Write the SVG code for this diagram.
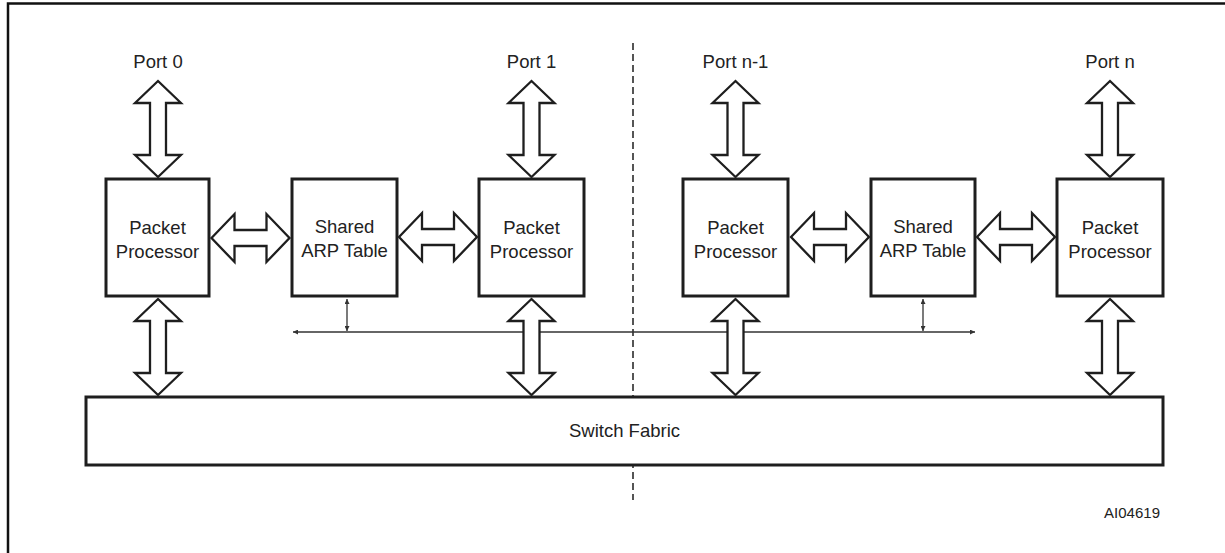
<svg xmlns="http://www.w3.org/2000/svg" width="1225" height="553" viewBox="0 0 1225 553">
  <style>
    .box { fill: #ffffff; stroke: #1e1e1e; stroke-width: 3; }
    .big { fill: #ffffff; stroke: #1e1e1e; stroke-width: 2.3; stroke-linejoin: miter; }
    .lbl { font-family: "Liberation Sans", Arial, sans-serif; font-size: 18.5px; fill: #222222; text-anchor: middle; }
    .tag { font-family: "Liberation Sans", Arial, sans-serif; font-size: 15px; fill: #222222; text-anchor: end; }
    .bus { stroke: #333333; stroke-width: 1.3; fill: none; }
    .frame { stroke: #111111; stroke-width: 2.5; fill: none; }
    .divider { stroke: #1e1e1e; stroke-width: 1.5; stroke-dasharray: 7 4; fill: none; }
  </style>
  <defs>
    <!-- wide outlined double arrows -->
    <path id="vArrow" class="big" d="M0,-48 L23,-26 L8,-26 L8,26 L23,26 L0,48 L-23,26 L-8,26 L-8,-26 L-23,-26 Z"/>
    <path id="hArrow" class="big" d="M-39,0 L-16,-24 L-16,-8 L16,-8 L16,-24 L39,0 L16,24 L16,8 L-16,8 L-16,24 Z"/>
    <marker id="tip" viewBox="0 0 10 10" refX="10" refY="5" markerWidth="6" markerHeight="5" orient="auto-start-reverse" markerUnits="userSpaceOnUse">
      <path d="M0,0 L10,5 L0,10 Z" fill="#333333"/>
    </marker>
  </defs>

  <rect width="1225" height="553" fill="#ffffff"/>

  <!-- outer frame -->
  <path class="frame" d="M8,553 L8,3.5 L1225,3.5"/>

  <!-- divider between the two halves -->
  <line class="divider" x1="633" y1="43" x2="633" y2="500"/>

  <g id="connectors">
    <!-- shared bus -->
    <line class="bus" x1="293" y1="332" x2="975" y2="332" marker-start="url(#tip)" marker-end="url(#tip)"/>
    <line class="bus" x1="347" y1="299" x2="347" y2="331" marker-start="url(#tip)" marker-end="url(#tip)"/>
    <line class="bus" x1="923" y1="299" x2="923" y2="331" marker-start="url(#tip)" marker-end="url(#tip)"/>

    <!-- port links -->
    <use href="#vArrow" x="158" y="129"/>
    <use href="#vArrow" x="531.5" y="129"/>
    <use href="#vArrow" x="735.5" y="129"/>
    <use href="#vArrow" x="1110" y="129"/>

    <!-- fabric links -->
    <use href="#vArrow" x="158" y="347"/>
    <use href="#vArrow" x="531.5" y="347"/>
    <use href="#vArrow" x="735.5" y="347"/>
    <use href="#vArrow" x="1110" y="347"/>

    <!-- processor / ARP table links -->
    <use href="#hArrow" x="250.5" y="238"/>
    <use href="#hArrow" x="438" y="237"/>
    <use href="#hArrow" x="830" y="237"/>
    <use href="#hArrow" x="1016" y="237"/>
  </g>

  <g id="port-labels">
    <text class="lbl" x="158" y="68">Port 0</text>
    <text class="lbl" x="531.5" y="68">Port 1</text>
    <text class="lbl" x="735.5" y="68">Port n-1</text>
    <text class="lbl" x="1110" y="68">Port n</text>
  </g>

  <g id="pp0">
    <rect class="box" x="106" y="179" width="103" height="117"/>
    <text class="lbl" x="157.5" y="234">Packet</text>
    <text class="lbl" x="157.5" y="258">Processor</text>
  </g>

  <g id="arp1">
    <rect class="box" x="292" y="179" width="105" height="117"/>
    <text class="lbl" x="344.5" y="233">Shared</text>
    <text class="lbl" x="344.5" y="257">ARP Table</text>
  </g>

  <g id="pp1">
    <rect class="box" x="479" y="179" width="105" height="117"/>
    <text class="lbl" x="531.5" y="234">Packet</text>
    <text class="lbl" x="531.5" y="258">Processor</text>
  </g>

  <g id="ppn1">
    <rect class="box" x="683" y="179" width="105" height="117"/>
    <text class="lbl" x="735.5" y="234">Packet</text>
    <text class="lbl" x="735.5" y="258">Processor</text>
  </g>

  <g id="arp2">
    <rect class="box" x="871" y="179" width="104" height="117"/>
    <text class="lbl" x="923" y="233">Shared</text>
    <text class="lbl" x="923" y="257">ARP Table</text>
  </g>

  <g id="ppn">
    <rect class="box" x="1057" y="179" width="106" height="117"/>
    <text class="lbl" x="1110" y="234">Packet</text>
    <text class="lbl" x="1110" y="258">Processor</text>
  </g>

  <g id="switch-fabric">
    <rect class="box" x="86" y="397" width="1077" height="68"/>
    <text class="lbl" x="624.5" y="437">Switch Fabric</text>
  </g>

  <text class="tag" x="1160" y="518">AI04619</text>
</svg>
